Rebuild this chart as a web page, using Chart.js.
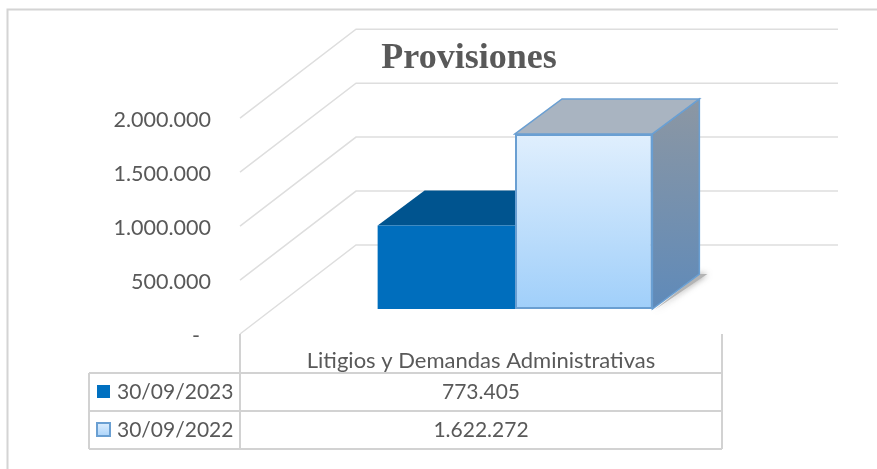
<!DOCTYPE html>
<html>
<head>
<meta charset="utf-8">
<script src="https://cdn.jsdelivr.net/npm/chart.js@4"></script>
<style>
  html, body { margin: 0; padding: 0; background: #fff; }
  canvas { display: block; }
</style>
</head>
<body>
<canvas id="provisiones" width="877" height="469"></canvas>
<script>
const categories = ["Litigios y Demandas Administrativas"];
const seriesNames = ["30/09/2023", "30/09/2022"];
const values2023 = [773405];
const values2022 = [1622272];
const yTicks = [0, 500000, 1000000, 1500000, 2000000];

const textColor = "#595959";
const gridColor = "#dedede";
const tableColor = "#d2d2d2";
const sansFont = "Lato";

// dots as thousands separator, like the source
function formatNumber(n) {
  return String(n).replace(/\B(?=(\d{3})+$)/g, ".");
}

function lightGradient(context) {
  const chart = context.chart;
  if (!chart.chartArea) return "#c8e2fb";
  const yScale = chart.scales.y;
  const g = chart.ctx.createLinearGradient(0, yScale.getPixelForValue(values2022[0]), 0, yScale.getPixelForValue(0));
  g.addColorStop(0, "#e0effd");
  g.addColorStop(1, "#a0cffa");
  return g;
}

function fillPoly(ctx, points, fill, stroke) {
  ctx.beginPath();
  points.forEach((p, i) => (i ? ctx.lineTo(p[0], p[1]) : ctx.moveTo(p[0], p[1])));
  ctx.closePath();
  ctx.fillStyle = fill;
  ctx.fill();
  if (stroke) {
    ctx.strokeStyle = stroke;
    ctx.lineWidth = 1.5;
    ctx.stroke();
  }
}

// fake 3d: walls behind the bars, and top and side faces for each bar
const wall = { dx: 116, dy: -89, right: 838 };
const barShift = { dx: 34, dy: -25 };
const barDepth = { dx: 47, dy: -35 };

const plot3d = {
  id: "plot3d",
  beforeDraw(chart) {
    const ctx = chart.ctx;
    ctx.save();
    ctx.strokeStyle = "#d4d4d4";
    ctx.lineWidth = 2;
    ctx.beginPath();
    ctx.moveTo(7.5, 469);
    ctx.lineTo(7.5, 9.5);
    ctx.lineTo(877, 9.5);
    ctx.stroke();
    ctx.restore();
  },
  beforeDatasetsDraw(chart) {
    const ctx = chart.ctx;
    const y = chart.scales.y;
    const left = chart.chartArea.left;
    ctx.save();
    ctx.strokeStyle = gridColor;
    ctx.lineWidth = 1.5;
    yTicks.forEach((t) => {
      const py = y.getPixelForValue(t);
      ctx.beginPath();
      ctx.moveTo(left, py);
      ctx.lineTo(left + wall.dx, py + wall.dy);
      ctx.lineTo(wall.right, py + wall.dy);
      ctx.stroke();
    });

    const d = barDepth;
    const dark = chart.getDatasetMeta(0).data[0];
    const light = chart.getDatasetMeta(1).data[0];
    ctx.translate(barShift.dx, barShift.dy);

    const dl = dark.x - dark.width / 2;
    const dr = dark.x + dark.width / 2;
    fillPoly(ctx, [[dl, dark.y], [dl + d.dx, dark.y + d.dy], [dr + d.dx, dark.y + d.dy], [dr, dark.y]], "#00548f");

    const ll = light.x - light.width / 2;
    const lr = light.x + light.width / 2;
    // soft shadow on the floor
    ctx.save();
    ctx.shadowColor = "rgba(110,110,110,0.8)";
    ctx.shadowBlur = 6;
    fillPoly(ctx, [[lr + 2, light.base + 1], [lr + d.dx + 8, light.base + d.dy], [lr + d.dx, light.base + d.dy]], "#b4b4b4");
    ctx.restore();

    const side = ctx.createLinearGradient(0, light.y + d.dy, 0, light.base);
    side.addColorStop(0, "#8c97a3");
    side.addColorStop(1, "#5f8ab9");
    fillPoly(ctx, [[lr, light.y], [lr + d.dx, light.y + d.dy], [lr + d.dx, light.base + d.dy], [lr, light.base]], side, "#6a9fd2");
    fillPoly(ctx, [[ll, light.y], [ll + d.dx, light.y + d.dy], [lr + d.dx, light.y + d.dy], [lr, light.y]], "#a9b4c1", "#6a9fd2");
    ctx.restore();

    ctx.save();
    ctx.translate(barShift.dx, barShift.dy);
  },
  afterDatasetsDraw(chart) {
    chart.ctx.restore();
  },
  afterDraw(chart) {
    const ctx = chart.ctx;
    const left = chart.chartArea.left;
    const right = chart.chartArea.right;
    const bottom = chart.chartArea.bottom;
    const rows = [373, 411, 449];
    const tableLeft = 89;
    const mid = (left + right) / 2;
    ctx.save();
    ctx.strokeStyle = tableColor;
    ctx.lineWidth = 2;
    ctx.beginPath();
    rows.forEach((r) => {
      ctx.moveTo(tableLeft, r);
      ctx.lineTo(right, r);
    });
    ctx.moveTo(tableLeft, rows[0]);
    ctx.lineTo(tableLeft, rows[2]);
    ctx.moveTo(left, bottom);
    ctx.lineTo(left, rows[2]);
    ctx.moveTo(right, bottom);
    ctx.lineTo(right, rows[2]);
    ctx.stroke();

    ctx.fillStyle = textColor;
    ctx.textBaseline = "middle";
    ctx.font = "21px " + sansFont;
    [values2023, values2022].forEach((vals, i) => {
      const cy = (rows[i] + rows[i + 1]) / 2 + 0.5;
      ctx.textAlign = "left";
      ctx.fillText(seriesNames[i], 117, cy);
      ctx.textAlign = "center";
      ctx.fillText(formatNumber(vals[0]), mid, cy);
    });

    // legend keys inside the table
    ctx.fillStyle = "#0070c0";
    ctx.fillRect(97, 385, 13, 13);
    const key = ctx.createLinearGradient(0, 422, 0, 437);
    key.addColorStop(0, "#e0effd");
    key.addColorStop(1, "#a8d2fa");
    ctx.fillStyle = key;
    ctx.strokeStyle = "#6a9fd2";
    ctx.lineWidth = 2;
    ctx.fillRect(97, 423, 13, 13);
    ctx.strokeRect(97, 423, 13, 13);
    ctx.restore();
  },
};

new Chart(document.getElementById("provisiones"), {
  type: "bar",
  data: {
    labels: categories,
    datasets: [
      {
        label: seriesNames[0],
        data: values2023,
        backgroundColor: "#006ebd",
        borderWidth: 0,
      },
      {
        label: seriesNames[1],
        data: values2022,
        backgroundColor: lightGradient,
        borderColor: "#6a9fd2",
        borderWidth: 2,
        borderSkipped: false,
      },
    ],
  },
  options: {
    responsive: false,
    animation: false,
    layout: { padding: { left: 61, right: 0, top: 0, bottom: 0 } },
    categoryPercentage: 0.57,
    barPercentage: 1,
    scales: {
      x: {
        grid: { display: false },
        border: { display: false },
        ticks: { color: textColor, font: { family: sansFont, size: 22 }, padding: 6, maxRotation: 0 },
        afterFit(axis) {
          axis.height = 135;
        },
      },
      y: {
        min: 0,
        max: 2000000,
        grid: { display: false },
        border: { display: false },
        afterBuildTicks(axis) {
          axis.ticks = yTicks.map((v) => ({ value: v }));
        },
        ticks: {
          color: textColor,
          font: { family: sansFont, size: 21.5 },
          padding: 21,
          labelOffset: 2,
          callback: (v) => (v === 0 ? "-  " : formatNumber(v)),
        },
        afterFit(axis) {
          axis.width = 179;
        },
      },
      // empty axis, only keeps the plot area clear of the right margin
      spacer: {
        position: "right",
        grid: { display: false },
        border: { display: false },
        ticks: { display: false },
        afterFit(axis) {
          axis.width = 155;
        },
      },
    },
    plugins: {
      legend: { display: false },
      tooltip: { enabled: false },
      title: {
        display: true,
        text: "Provisiones",
        color: textColor,
        font: { family: "Liberation Serif", size: 36, weight: "bold" },
        padding: { top: 37, bottom: 38 },
      },
    },
  },
  plugins: [plot3d],
});
</script>
</body>
</html>
